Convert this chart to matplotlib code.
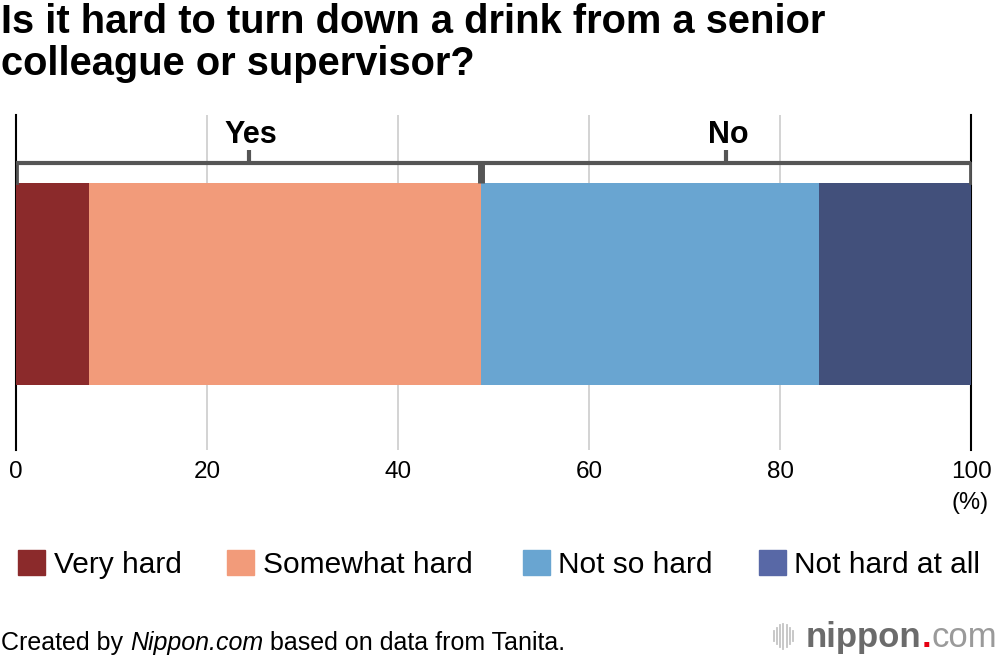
import matplotlib
matplotlib.use("Agg")
import matplotlib.pyplot as plt
from matplotlib.patches import Rectangle

categories = ["Very hard", "Somewhat hard", "Not so hard", "Not hard at all"]
values = [7.6, 41.1, 35.4, 15.9]
bar_colors = ["#8B2A2B", "#F29B7A", "#69A5D1", "#42507B"]
legend_colors = ["#8B2A2B", "#F29B7A", "#69A5D1", "#5868A6"]
groups = ["Yes", "No"]
xticks = [0, 20, 40, 60, 80, 100]

plt.rcParams['font.family'] = ['Liberation Sans', 'DejaVu Sans']

W, H = 1000, 658
fig = plt.figure(figsize=(W / 100, H / 100), dpi=100)

def fx(px):
    return px / W

def fy(py):
    return 1 - py / H

ax = fig.add_axes([fx(16), fy(450), fx(971) - fx(16), fy(115) - fy(450)])
ax.set_xlim(0, 100)
ax.set_ylim(0, 1)

# bars
left = 0
for v, c in zip(values, bar_colors):
    ax.barh(0.4955, v, left=left, height=0.603, color=c, zorder=3)
    left += v

# grid
for t in xticks[1:-1]:
    ax.axvline(t, color="#cccccc", lw=1.2, zorder=1)

for s in ["top", "bottom"]:
    ax.spines[s].set_visible(False)
for s in ["left", "right"]:
    ax.spines[s].set_color("black")
    ax.spines[s].set_linewidth(1.5)
ax.set_yticks([])
ax.set_xticks(xticks)
ax.set_xticklabels([str(t) for t in xticks], fontsize=17.5)
ax.tick_params(axis="x", length=0, pad=8)

# bracket
yes_total = values[0] + values[1]
yb = 0.857
ytop = 0.797
bc = "#555555"
ax.plot([0, 100], [yb, yb], color=bc, lw=3, solid_capstyle="butt", zorder=4, clip_on=False)
ax.plot([0.15, 0.15], [yb, ytop], color=bc, lw=2, zorder=4, clip_on=False)
ax.plot([99.85, 99.85], [yb, ytop], color=bc, lw=2, zorder=4, clip_on=False)
ax.plot([yes_total, yes_total], [yb, ytop], color=bc, lw=5, solid_capstyle="butt", zorder=4)
for gname, (a, b) in zip(groups, [(0, yes_total), (yes_total, 100)]):
    m = (a + b) / 2
    ax.plot([m, m], [yb, 0.896], color=bc, lw=3, solid_capstyle="butt", zorder=4, clip_on=False)
    ax.text(m + 0.2, (450 - 143) / 335, gname, ha="center", va="baseline", fontsize=22,
            fontweight="bold", zorder=5)

fig.text(fx(989), fy(503), "(%)", ha="right", va="center", fontsize=17)

# title
fig.text(fx(1), fy(33), "Is it hard to turn down a drink from a senior", ha="left", va="baseline",
         fontsize=28.7, fontweight="bold")
fig.text(fx(1), fy(75), "colleague or supervisor?", ha="left", va="baseline",
         fontsize=28.7, fontweight="bold")

# legend
sw_x = [18, 227, 523, 759]
tx_x = [54, 263, 558, 794]
for cat, c, sx, tx in zip(categories, legend_colors, sw_x, tx_x):
    fig.patches.append(Rectangle((fx(sx), fy(575)), fx(27), 25 / H, transform=fig.transFigure,
                                 color=c))
    fig.text(fx(tx), fy(573), cat, ha="left", va="baseline", fontsize=21.5)

# footer
fs = 18
t1 = fig.text(fx(1), fy(650), "Created by ", ha="left", va="baseline", fontsize=fs)
fig.canvas.draw()
r = fig.canvas.get_renderer()
bb = t1.get_window_extent(r)
t2 = fig.text(bb.x1 / W, fy(650), "Nippon.com", ha="left", va="baseline", fontsize=fs, style="italic")
bb2 = t2.get_window_extent(r)
fig.text(bb2.x1 / W, fy(650), " based on data from Tanita.", ha="left", va="baseline", fontsize=fs)

# logo
icon_x = [774, 777, 780, 783, 787, 790, 793]
icon_h = [10, 16, 22, 25, 22, 16, 10]
for xx, hh in zip(icon_x, icon_h):
    fig.add_artist(plt.Line2D([fx(xx), fx(xx)], [fy(636 + hh / 2), fy(636 - hh / 2)],
                              transform=fig.transFigure, color="#c4c4c4", lw=1.3))
l1 = fig.text(fx(806), fy(647), "nippon", ha="left", va="baseline", fontsize=25, fontweight="bold",
              color="#6b6b6b")
fig.canvas.draw()
b1 = l1.get_window_extent(r)
l2 = fig.text(b1.x1 / W, fy(647), ".", ha="left", va="baseline", fontsize=25, fontweight="bold",
              color="#e60012")
b2 = l2.get_window_extent(r)
fig.text(b2.x1 / W, fy(647), "com", ha="left", va="baseline", fontsize=25, color="#9a9a9a")

fig.savefig("out.png", dpi=100)
